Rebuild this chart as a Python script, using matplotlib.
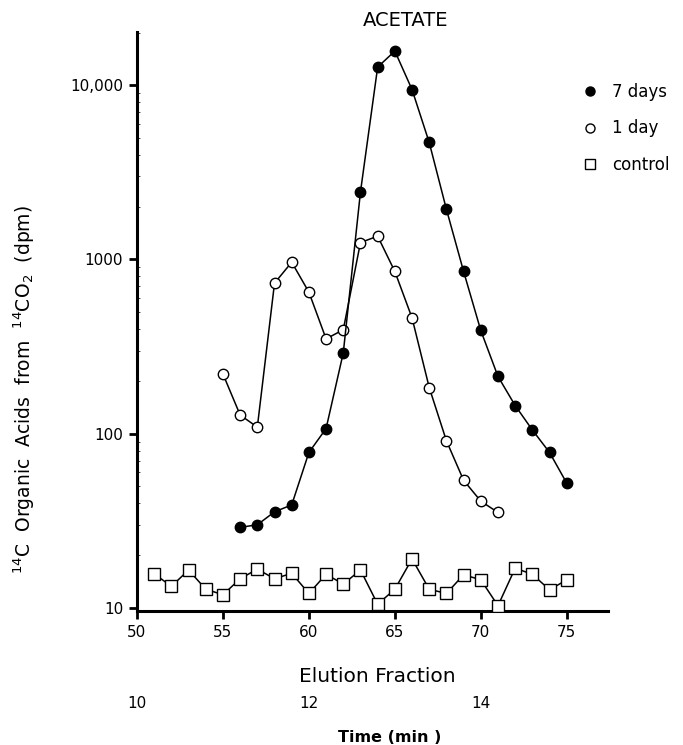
"""
Acetate elution profile, 14C organic acids from 14CO2
"""
import matplotlib
matplotlib.use("Agg")
from matplotlib import pyplot as plt
from matplotlib.lines import Line2D
from matplotlib.ticker import FixedLocator, LogLocator, NullFormatter

plt.rcParams['font.family'] = ['DejaVu Sans']

# data (dpm per elution fraction)
control_fraction = list(range(51, 76))
control_dpm = [15.7, 13.3, 16.5, 12.8, 11.9, 14.7, 16.7, 14.7, 15.8, 12.1,
               15.6, 13.7, 16.5, 10.5, 12.8, 19.1, 12.8, 12.1, 15.5, 14.5,
               10.3, 16.9, 15.6, 12.7, 14.5]

day7_fraction = list(range(56, 76))
day7_dpm = [29, 30, 35.6, 39, 78, 107, 291, 2440, 12700, 15700,
            9440, 4690, 1940, 853, 391, 213, 145, 105, 78, 52]

day1_fraction = list(range(55, 72))
day1_dpm = [220, 128, 109, 731, 964, 649, 350, 395, 1250, 1360,
            853, 462, 184, 91, 54, 41, 35.3]

fraction_ticks = [50, 55, 60, 65, 70, 75]
dpm_ticks = [10, 100, 1000, 10000]
dpm_tick_labels = ["10", "100", "1000", "10,000"]
time_ticks = [10, 12, 14]

fig = plt.figure(figsize=(6.83, 7.45), dpi=100)
ax = fig.add_axes([137 / 683, 1 - 611 / 745, 471 / 683, 579 / 745])

ax.plot(control_fraction, control_dpm, color='black', lw=1.1, marker='s',
        ms=8, mfc='white', mec='black', mew=1.0, zorder=3)
ax.plot(day1_fraction, day1_dpm, color='black', lw=1.1, marker='o',
        ms=7.5, mfc='white', mec='black', mew=1.0, zorder=4)
ax.plot(day7_fraction, day7_dpm, color='black', lw=1.1, marker='o',
        ms=7.5, mfc='black', mec='black', zorder=5)

ax.set_yscale('log')
ax.set_xlim(50, 77.4)
ax.set_ylim(9.6, 20200)

for side in ['top', 'right']:
    ax.spines[side].set_visible(False)
for side in ['left', 'bottom']:
    ax.spines[side].set_linewidth(2.2)

ax.xaxis.set_major_locator(FixedLocator(fraction_ticks))
ax.set_xticklabels([str(t) for t in fraction_ticks])
ax.yaxis.set_major_locator(FixedLocator(dpm_ticks))
ax.set_yticklabels(dpm_tick_labels)
ax.yaxis.set_minor_locator(LogLocator(base=10, subs=range(2, 10)))
ax.yaxis.set_minor_formatter(NullFormatter())
ax.tick_params(axis='both', which='major', direction='out', length=6,
               width=2, labelsize=11, pad=4)
ax.tick_params(axis='y', which='minor', direction='in', length=2, width=0.5)

ax.set_title("ACETATE", fontsize=14, pad=4, x=0.57)

# time axis (5 fractions per minute, fraction 50 = 10 min)
sec = ax.secondary_xaxis(-0.14, functions=(lambda f: 10 + (f - 50) / 5,
                                           lambda t: 50 + (t - 10) * 5))
sec.spines['bottom'].set_visible(False)
sec.xaxis.set_major_locator(FixedLocator(time_ticks))
sec.set_xticklabels([str(t) for t in time_ticks])
sec.tick_params(axis='x', length=0, labelsize=11, pad=3)

# axis titles
fig.text(377 / 683, 1 - 677 / 745, "Elution Fraction", fontsize=14.5,
         ha='center', va='center')
fig.text(390 / 683, 1 - 737 / 745, "Time (min )", fontsize=11.5,
         fontweight='bold', ha='center', va='center')
fig.text(24 / 683, 1 - 390 / 745,
         r"$^{14}$C  Organic  Acids  from  $^{14}$CO$_2$  (dpm)",
         rotation=90, ha='center', va='center', fontsize=13.5)

handles = [
    Line2D([], [], ls='none', marker='o', ms=6.5, mfc='black', mec='black'),
    Line2D([], [], ls='none', marker='o', ms=6.5, mfc='white', mec='black', mew=1.0),
    Line2D([], [], ls='none', marker='s', ms=6.5, mfc='white', mec='black', mew=1.0),
]
fig.legend(handles, ["7 days", "1 day", "control"], loc='upper left',
           bbox_to_anchor=(582 / 683, 1 - 83 / 745), frameon=False,
           fontsize=12, handlelength=1.0, handletextpad=0.8,
           labelspacing=1.1, borderpad=0, borderaxespad=0)

fig.savefig("out.png", dpi=100)
